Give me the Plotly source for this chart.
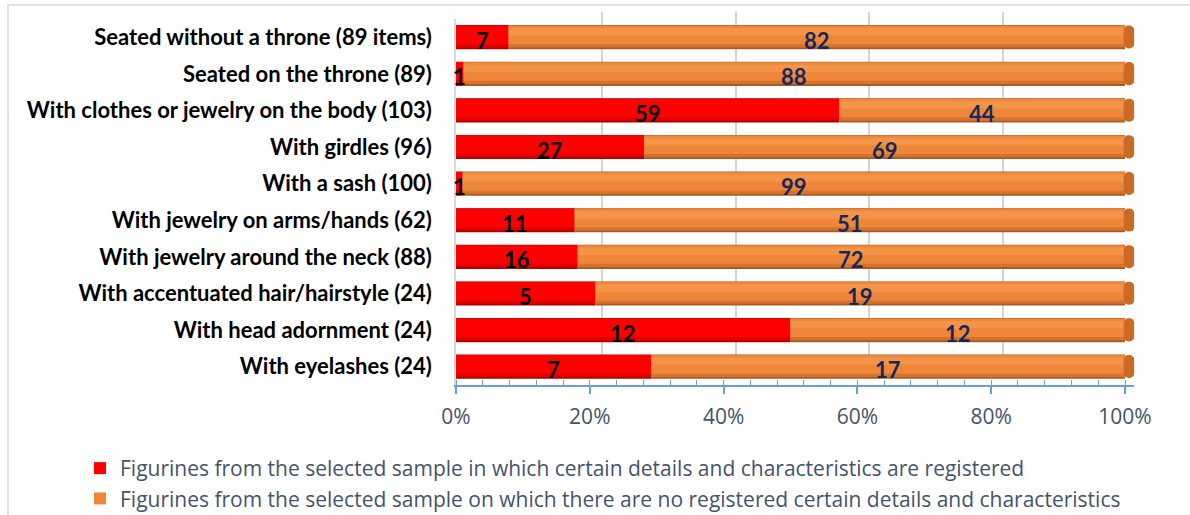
import plotly.graph_objects as go

# Figurine groups and counts
categories = [
    "Seated without a throne (89 items)",
    "Seated on the throne (89)",
    "With clothes or jewelry on the body (103)",
    "With girdles (96)",
    "With a sash (100)",
    "With jewelry on arms/hands (62)",
    "With jewelry around the neck (88)",
    "With accentuated hair/hairstyle (24)",
    "With head adornment (24)",
    "With eyelashes (24)",
]
registered = [7, 1, 59, 27, 1, 11, 16, 5, 12, 7]
not_registered = [82, 88, 44, 69, 99, 51, 72, 19, 12, 17]

series_names = [
    "Figurines from the selected sample in which certain details and characteristics are registered",
    "Figurines from the selected sample on which there are no registered certain details and characteristics",
]
x_ticks = [0, 20, 40, 60, 80, 100]
x_tick_labels = ["0%", "20%", "40%", "60%", "80%", "100%"]

W, H = 1190, 515

totals = [a + b for a, b in zip(registered, not_registered)]
pct_reg = [a / t * 100 for a, t in zip(registered, totals)]
pct_not = [b / t * 100 for b, t in zip(not_registered, totals)]
n = len(categories)

# shading layers for a cylinder look: (offset, width, colour)
red_layers = [(-0.33, 0.66, "#B20000"), (-0.32, 0.60, "#E00000"),
              (-0.31, 0.50, "#FF0000")]
orange_layers = [(-0.33, 0.66, "#A85C26"), (-0.32, 0.60, "#D6722C"),
                 (-0.31, 0.50, "#EF873A"), (-0.25, 0.20, "#F39448")]

fig = go.Figure()

# invisible trace for the back wall grid
fig.add_trace(go.Scatter(x=[0, 100], y=[0, 1], mode="markers",
                         marker=dict(opacity=0), showlegend=False,
                         hoverinfo="skip", xaxis="x", yaxis="y"))


def add_series(values, bases, layers, name, legend_layer):
    for i, (off, wd, col) in enumerate(layers):
        fig.add_trace(go.Bar(
            y=categories, x=values, base=bases, orientation="h",
            offset=off, width=wd,
            marker=dict(color=col, line=dict(width=0)),
            name=name, showlegend=(i == legend_layer), legendgroup=name,
            xaxis="x2", yaxis="y2", hoverinfo="skip",
        ))


add_series(pct_reg, [0] * n, red_layers, series_names[0], 2)
add_series(pct_not, pct_reg, orange_layers, series_names[1], 2)

# rounded end cap of each cylinder
totals_pct = [r + o for r, o in zip(pct_reg, pct_not)]
fig.add_trace(go.Bar(
    y=categories, x=[1.6] * n, base=[t - 0.2 for t in totals_pct], orientation="h",
    offset=-0.32, width=0.63,
    marker=dict(color="#CB6A24", line=dict(width=0), cornerradius=7),
    showlegend=False, xaxis="x2", yaxis="y2", hoverinfo="skip",
))

annotations = []
for cat, r, pr, v, pn in zip(categories, registered, pct_reg, not_registered, pct_not):
    annotations.append(dict(x=pr / 2, y=cat, xref="x2", yref="y2", text=str(r),
                            showarrow=False, yshift=-3,
                            font=dict(family="Lato", size=22, color="#000000", weight="bold")))
    annotations.append(dict(x=pr + pn / 2, y=cat, xref="x2", yref="y2", text=str(v),
                            showarrow=False, yshift=-3,
                            font=dict(family="Lato", size=22, color="#13295C", weight="bold")))

px_per_pct = 6.69
x_max = 101.4
front_x = [456 / W, (456 + px_per_pct * x_max) / W]
front_y = [1 - 385 / H, 1 - 18.7 / H]
back_x = [468 / W, 1137 / W]
back_y = [1 - 378 / H, 1 - 12 / H]

fig.update_layout(
    width=W, height=H,
    margin=dict(l=0, r=0, t=0, b=0, autoexpand=False),
    paper_bgcolor="white", plot_bgcolor="rgba(0,0,0,0)",
    barmode="overlay",
    showlegend=True,
    legend=dict(x=80 / W, y=1 - 448 / H, xanchor="left", yanchor="top",
                orientation="v", itemwidth=30, tracegroupgap=0,
                font=dict(family="Open Sans", size=21, color="#44546A"),
                bgcolor="rgba(0,0,0,0)"),
    xaxis=dict(domain=back_x, range=[0, 100], anchor="y",
               showgrid=True, gridcolor="#D4D4D4", gridwidth=1.5,
               tickvals=x_ticks, showticklabels=False, zeroline=False,
               showline=False, ticks=""),
    yaxis=dict(domain=back_y, range=[0, 1], anchor="x", visible=False),
    xaxis2=dict(domain=front_x, range=[0, x_max], anchor="y2",
                tickvals=x_ticks, ticktext=x_tick_labels,
                showgrid=False, zeroline=False,
                showline=True, linecolor="#6A9FD4", linewidth=1.5,
                ticks="outside", ticklen=7, tickwidth=1.5, tickcolor="#6A9FD4",
                minor=dict(ticks="inside", dtick=4, ticklen=5, tickwidth=1.2,
                           tickcolor="#6A9FD4"),
                ticklabelstandoff=5,
                tickfont=dict(family="Open Sans", size=21, color="#44546A")),
    yaxis2=dict(domain=front_y, anchor="x2", autorange="reversed",
                showgrid=False, zeroline=False,
                showline=True, linecolor="#D9D9D9", linewidth=1.5,
                ticks="", ticklabelstandoff=18,
                tickfont=dict(family="Lato", size=22, color="#000000", weight="bold")),
    annotations=annotations,
    shapes=[dict(type="rect", xref="paper", yref="paper",
                 x0=8 / W, x1=1.05, y0=-0.05, y1=1 - 5 / H,
                 line=dict(color="#D9D9D9", width=1.5), layer="below")],
)

fig.write_html("out.html")
